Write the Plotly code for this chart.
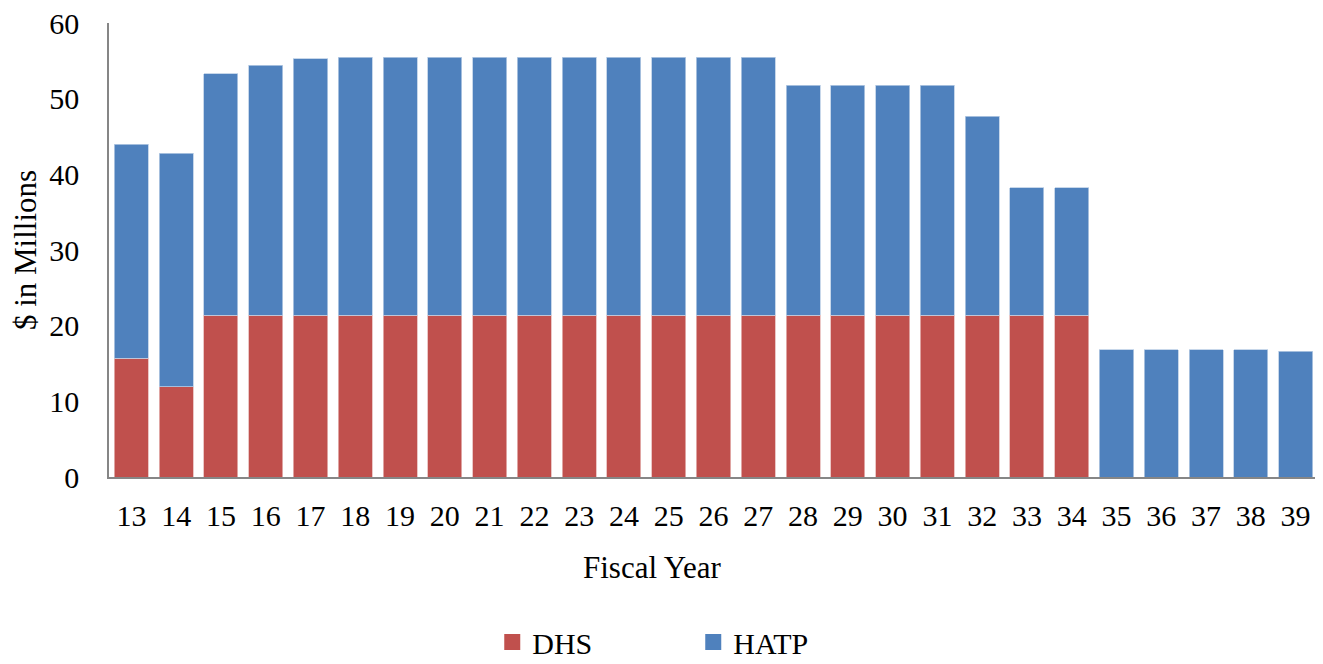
import plotly.graph_objects as go

years = [str(y) for y in range(13, 40)]
dhs = [15.7, 11.9] + [21.4] * 20 + [0] * 5
hatp = [28.3, 30.9, 31.9, 33.0, 33.9] + [34.1] * 10 + [30.4] * 4 + [26.3, 16.8, 16.8] + [16.8] * 4 + [16.6]

font_family = "Liberation Serif, Times New Roman, serif"
red = "#C0504D"
blue = "#4F81BD"

fig = go.Figure()
fig.add_trace(go.Bar(x=years, y=dhs, name="DHS", showlegend=False,
                     marker=dict(color=red, line=dict(color="#E6B9B8", width=0.8))))
fig.add_trace(go.Bar(x=years, y=hatp, name="HATP", showlegend=False,
                     marker=dict(color=blue, line=dict(color="#B9CDE5", width=0.8))))
# legend entries with larger square swatches
for name, col in [("DHS", red), ("HATP", blue)]:
    fig.add_trace(go.Scatter(x=[None], y=[None], mode="markers", name=name,
                             marker=dict(symbol="square", size=16, color=col)))

fig.update_layout(
    barmode="stack",
    bargap=0.24,
    width=1315, height=656,
    margin=dict(l=101, r=5, t=15, b=187, autoexpand=False),
    paper_bgcolor="white",
    plot_bgcolor="white",
    font=dict(family=font_family, size=30, color="black"),
    legend=dict(orientation="h", x=0.317, y=-0.306, xanchor="left", yanchor="top",
                traceorder="normal", entrywidth=156, font=dict(size=30)),
    xaxis=dict(
        automargin=False,
        showline=True, linecolor="#868686", linewidth=1.5,
        ticks="outside", ticklen=11, tickcolor="rgba(0,0,0,0)",
    ),
    yaxis=dict(
        automargin=False,
        range=[0, 60], dtick=10,
        showgrid=False, zeroline=False,
        showline=True, linecolor="#868686", linewidth=1.5,
        ticks="outside", ticklen=22, tickcolor="rgba(0,0,0,0)",
        ticklabeloverflow="allow",
        title=dict(text="$ in Millions", standoff=15, font=dict(size=31)),
    ),
    annotations=[
        dict(text="Fiscal Year", xref="paper", yref="paper", x=0.449, y=-0.2,
             xanchor="center", yanchor="middle", showarrow=False, font=dict(size=31)),
    ],
)

fig.write_html("out.html")
